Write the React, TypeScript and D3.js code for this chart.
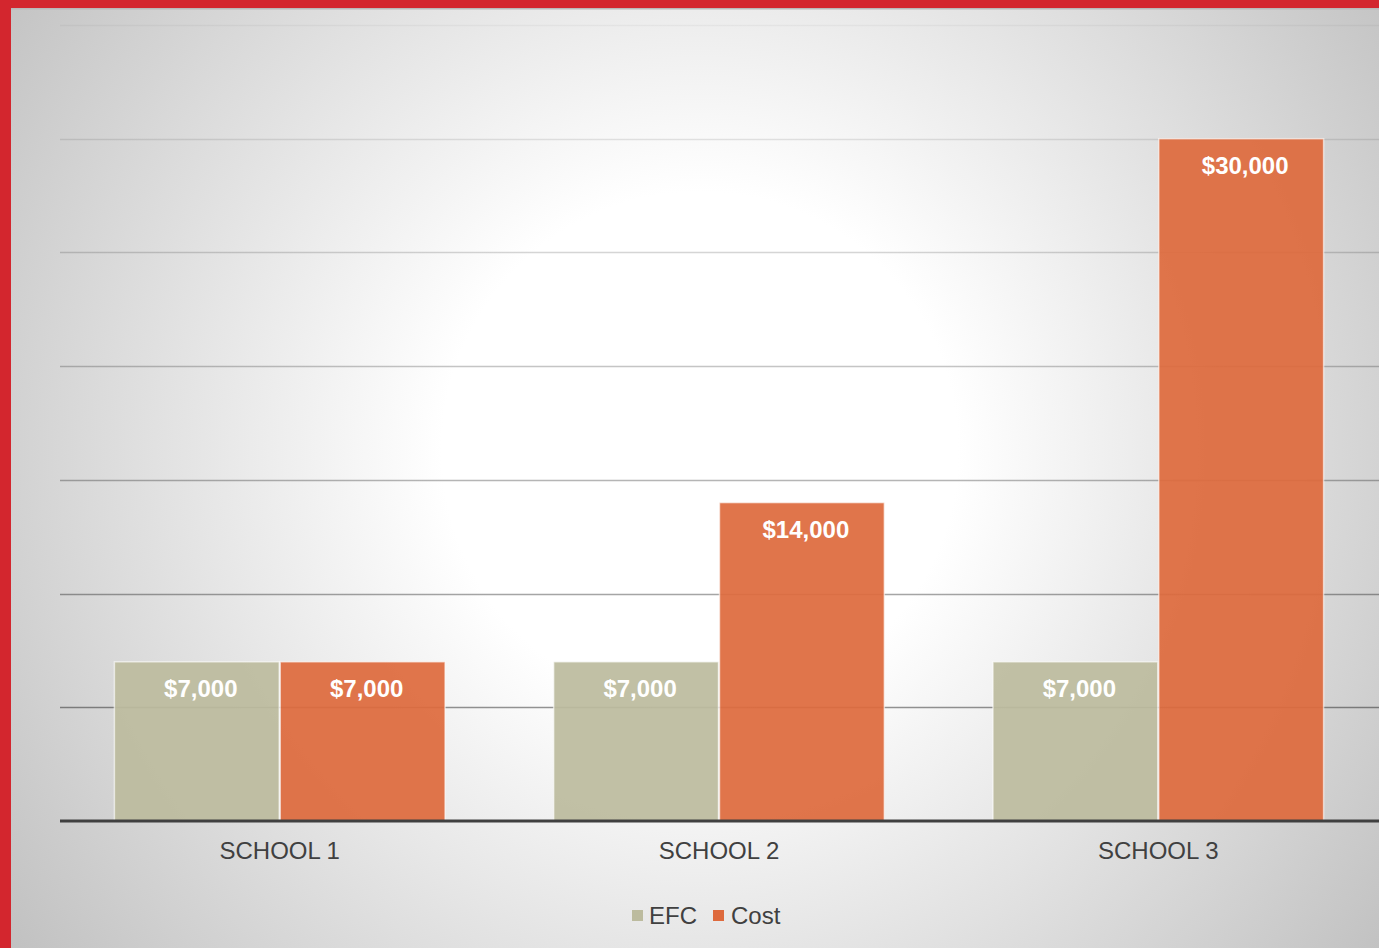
import React from 'react';
import * as d3 from 'd3';

const schools = ['SCHOOL 1', 'SCHOOL 2', 'SCHOOL 3'];
const seriesNames = ['EFC', 'Cost'];
const efcValues = [7000, 7000, 7000];
const costValues = [7000, 14000, 30000];
const gridTicks = [5000, 10000, 15000, 20000, 25000, 30000, 35000];

const W = 1379;
const H = 948;
const colors: Record<string, string> = { EFC: '#bcbb9e', Cost: '#de6a3d' };
const font = '"Liberation Sans", Arial, sans-serif';

const App: React.FC = () => {
  // plot area
  const left = 59;
  const right = 1379;
  const top = 25;
  const bottom = 821;

  const x = d3.scaleBand<string>().domain(schools).range([left, right]).paddingInner(0.245).paddingOuter(0.125);
  const xs = d3.scaleBand<string>().domain(seriesNames).range([0, x.bandwidth()]);
  const y = d3.scaleLinear().domain([0, 35000]).range([bottom, top]);
  const fmt = (v: number) => '$' + d3.format(',')(v);

  const rows = schools.map((s, i) => ({ school: s, EFC: efcValues[i], Cost: costValues[i] }));

  return (
    <div style={{ position: 'fixed', left: 0, top: 0, width: W, height: H }}>
      <svg width={W} height={H} style={{ display: 'block' }}>
        <defs>
          <radialGradient id="bg" gradientUnits="userSpaceOnUse" cx={700} cy={450} r={860}>
            <stop offset="0" stopColor="#ffffff" />
            <stop offset="0.3" stopColor="#ffffff" />
            <stop offset="0.6" stopColor="#e4e4e4" />
            <stop offset="1" stopColor="#c0c0c0" />
          </radialGradient>
          <linearGradient id="grid" gradientUnits="userSpaceOnUse" x1={0} y1={top} x2={0} y2={bottom}>
            <stop offset="0" stopColor="#000" stopOpacity={0.04} />
            <stop offset="1" stopColor="#000" stopOpacity={0.48} />
          </linearGradient>
        </defs>

        {/* frame */}
        <rect x={0} y={0} width={W} height={H} fill="#d3262e" />
        <rect x={11} y={8} width={W - 11} height={H - 8} fill="url(#bg)" />
        <rect x={11} y={8} width={W - 11} height={1.5} fill="#b8b8b8" />

        {/* gridlines */}
        {gridTicks.map(t => (
          <line key={t} x1={60} x2={W} y1={Math.round(y(t)) + 0.5} y2={Math.round(y(t)) + 0.5}
            stroke="url(#grid)" strokeWidth={1.5} />
        ))}

        {/* bars */}
        {rows.map(r => (
          <g key={r.school} transform={`translate(${x(r.school)},0)`}>
            {seriesNames.map(s => {
              const v = (r as any)[s] as number;
              const bx = xs(s) || 0;
              return (
                <g key={s}>
                  <rect x={bx + 0.5} y={y(v)} width={xs.bandwidth() - 1} height={bottom - y(v)}
                    fill={colors[s]} fillOpacity={0.93} stroke="#ffffff" strokeOpacity={0.6} strokeWidth={1.5} />
                  <text x={bx + xs.bandwidth() / 2 + 4} y={y(v) + 29} textAnchor="middle" dominantBaseline="middle"
                    fontFamily={font} fontWeight="bold" fontSize={24} fill="#ffffff">{fmt(v)}</text>
                </g>
              );
            })}
          </g>
        ))}

        {/* baseline */}
        <line x1={60} x2={W} y1={bottom} y2={bottom} stroke="#404040" strokeWidth={3} />

        {/* category labels */}
        {schools.map(s => (
          <text key={s} x={(x(s) || 0) + x.bandwidth() / 2} y={853} textAnchor="middle" dominantBaseline="middle"
            fontFamily={font} fontSize={24} fill="#404040">{s}</text>
        ))}

        {/* legend */}
        <g fontFamily={font} fontSize={24} fill="#404040">
          <rect x={632} y={910} width={11} height={11} fill={colors.EFC} />
          <text x={649} y={918} dominantBaseline="middle">EFC</text>
          <rect x={713} y={910} width={11} height={11} fill={colors.Cost} />
          <text x={731} y={918} dominantBaseline="middle">Cost</text>
        </g>
      </svg>
    </div>
  );
};

export default App;
